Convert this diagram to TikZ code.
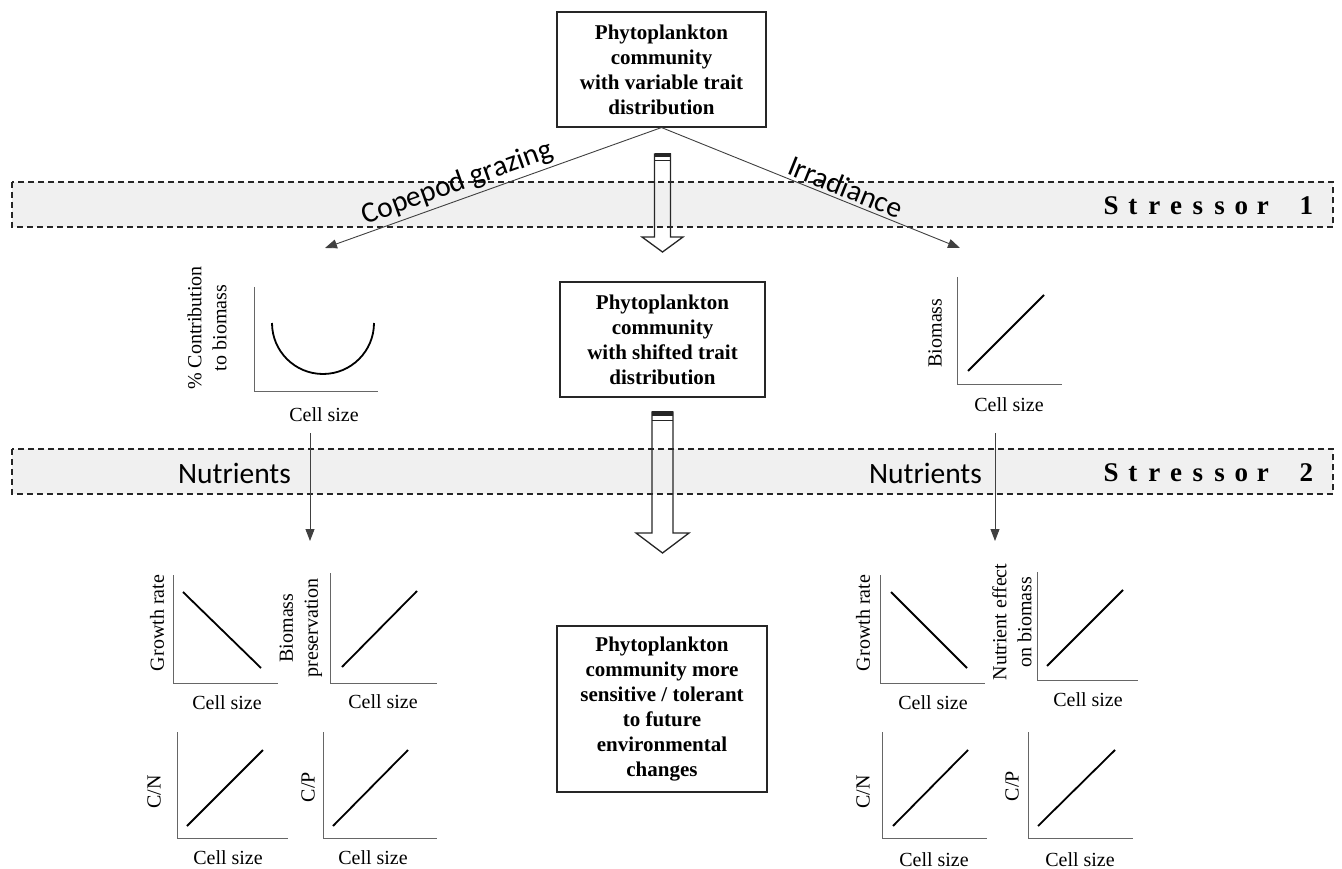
\documentclass[tikz,border=0pt]{standalone}
\usepackage{fontspec}
\setmainfont{Liberation Serif}
\newfontfamily\calib{Carlito}
\usetikzlibrary{arrows.meta}
\newcommand\slot[1]{\makebox[21.7pt]{#1}}
\begin{document}
\begin{tikzpicture}[x=1pt,y=-1pt,
  box/.style={draw=black!85, line width=1.1pt, fill=white, font=\bfseries\fontsize{21}{25}\selectfont, align=center, inner sep=0pt},
  band/.style={draw=black!85, dash pattern=on 6pt off 4pt, line width=1.2pt, fill=black!6},
  lbl/.style={font=\fontsize{20}{25}\selectfont, align=center, inner sep=0pt},
  ax/.style={draw=black!60, line width=1pt},
  crv/.style={draw=black, line width=1.8pt},
  thinarrow/.style={draw=black!75, line width=0.9pt, -{Triangle[length=12pt,width=9pt]}},
  thinarrowrev/.style={draw=black!75, line width=0.9pt, {Triangle[length=12pt,width=9pt]}-},
  sans/.style={font=\calib\fontsize{29.5}{34}\selectfont, inner sep=0pt},
  stress/.style={font=\bfseries\fontsize{27}{30}\selectfont, inner sep=0pt, anchor=west},
  hollow/.style={draw=black!85, line width=1.3pt}
]
\useasboundingbox (0,0) rectangle (1342,869);

% stressor bands
\path[band] (12,182) rectangle (1333,227);
\path[band] (12,449) rectangle (1333,494);
\node[stress] (s1) at (1100,206) {\slot{S}\slot{t}\slot{r}\slot{e}\slot{s}\slot{s}\slot{o}\slot{r}\slot{}\slot{1}};
\node[stress] (s2) at (1100,473) {\slot{S}\slot{t}\slot{r}\slot{e}\slot{s}\slot{s}\slot{o}\slot{r}\slot{}\slot{2}};
\node[sans] (nutl) at (234.5,473) {Nutrients};
\node[sans] (nutr) at (925.5,473) {Nutrients};

% boxes
\node[box, minimum width=209pt, minimum height=115pt] (top) at (661.5,69.5)
  {Phytoplankton\\community\\with variable trait\\distribution};
\node[box, minimum width=205pt, minimum height=115pt] (mid) at (662.5,339.5)
  {Phytoplankton\\community\\with shifted trait\\distribution};
\node[box, minimum width=210pt, minimum height=166pt] (bot) at (662,709)
  {Phytoplankton\\community more\\sensitive / tolerant\\to future\\environmental\\changes};

% stressor 1 connectors
\coordinate (ltip) at (325,248);
\coordinate (rtip) at (960,248);
\draw[thinarrowrev] (ltip) -- node[sans, sloped, above=3pt, pos=0.41] {Copepod grazing} (top.south);
\draw[thinarrow] (top.south) -- node[sans, sloped, above=3pt, pos=0.6] {Irradiance} (rtip);

% hollow arrows
\coordinate (h1) at (662.5,154);
\draw[hollow] (h1) ++(-8,0) -- ++(0,83) -- ++(-12.5,0) -- ++(20.5,15) -- ++(20.5,-15) -- ++(-12.5,0) -- ++(0,-83) -- cycle;
\fill[black!85] (654.5,153) rectangle (670.5,157);
\draw[black!85, line width=0.8pt] (654.5,160) -- (670.5,160);
\coordinate (h2) at (662.5,412);
\draw[hollow] (h2) ++(-10.5,0) -- ++(0,121) -- ++(-16,0) -- ++(26.5,20) -- ++(26.5,-20) -- ++(-16,0) -- ++(0,-121) -- cycle;
\fill[black!85] (652,411) rectangle (673,416);
\draw[black!85, line width=0.8pt] (652,420) -- (673,420);

% top-left graph
\draw[ax] (254,287) -- (254,391) -- (378,391);
\draw[crv] (272,323) arc[start angle=180, end angle=360, radius=51pt];
\node[lbl, rotate=90] (yl1) at (207,328) {\% Contribution\\to biomass};
\node[lbl] (cs1) at (324,415) {Cell size};

% top-right graph
\draw[ax] (957,277) -- (957,384) -- (1062,384);
\draw[crv] (968,371) -- (1044,295);
\node[lbl, rotate=90] (yr1) at (935,333) {Biomass};
\node[lbl] (cs2) at (1009,405) {Cell size};

% stressor 2 connectors
\coordinate (d1s) at (310,433);
\coordinate (d1e) at (310,541);
\coordinate (d2s) at (995,433);
\coordinate (d2e) at (995,541);
\draw[thinarrow] (d1s) -- (d1e);
\draw[thinarrow] (d2s) -- (d2e);

% bottom-left graphs
\draw[ax] (173,575) -- (173,683) -- (278,683);
\draw[crv] (183,592) -- (261,668);
\node[lbl, rotate=90] (gl) at (157,623) {Growth rate};
\node[lbl] (csgl) at (227,703) {Cell size};

\draw[ax] (330,573) -- (330,683) -- (437,683);
\draw[crv] (342,667) -- (417,591);
\node[lbl, rotate=90] (bpl) at (301,628) {Biomass\\preservation};
\node[lbl] (csbl) at (383,702) {Cell size};

\draw[ax] (177,732) -- (177,838) -- (288,838);
\draw[crv] (187,826) -- (263,750);
\node[lbl, rotate=90] (cnl) at (154,792) {C/N};
\node[lbl] (cscnl) at (228,858) {Cell size};

\draw[ax] (323,732) -- (323,838) -- (437,838);
\draw[crv] (333,826) -- (408,750);
\node[lbl, rotate=90] (cpl) at (308,787) {C/P};
\node[lbl] (cscpl) at (373,858) {Cell size};

% bottom-right graphs
\draw[ax] (880,575) -- (880,683) -- (985,683);
\draw[crv] (891,592) -- (967,668);
\node[lbl, rotate=90] (gr) at (863,623) {Growth rate};
\node[lbl] (csgr) at (933,703) {Cell size};

\draw[ax] (1037,572) -- (1037,680) -- (1138,680);
\draw[crv] (1047,666) -- (1123,590);
\node[lbl, rotate=90] (ner) at (1012,622) {Nutrient effect\\on biomass};
\node[lbl] (csner) at (1088,700) {Cell size};

\draw[ax] (882,732) -- (882,838) -- (987,838);
\draw[crv] (893,826) -- (968,750);
\node[lbl, rotate=90] (cnr) at (863,792) {C/N};
\node[lbl] (cscnr) at (934,860) {Cell size};

\draw[ax] (1028,732) -- (1028,838) -- (1133,838);
\draw[crv] (1038,826) -- (1115,750);
\node[lbl, rotate=90] (cpr) at (1012,786) {C/P};
\node[lbl] (cscpr) at (1080,860) {Cell size};
\end{tikzpicture}
\end{document}
